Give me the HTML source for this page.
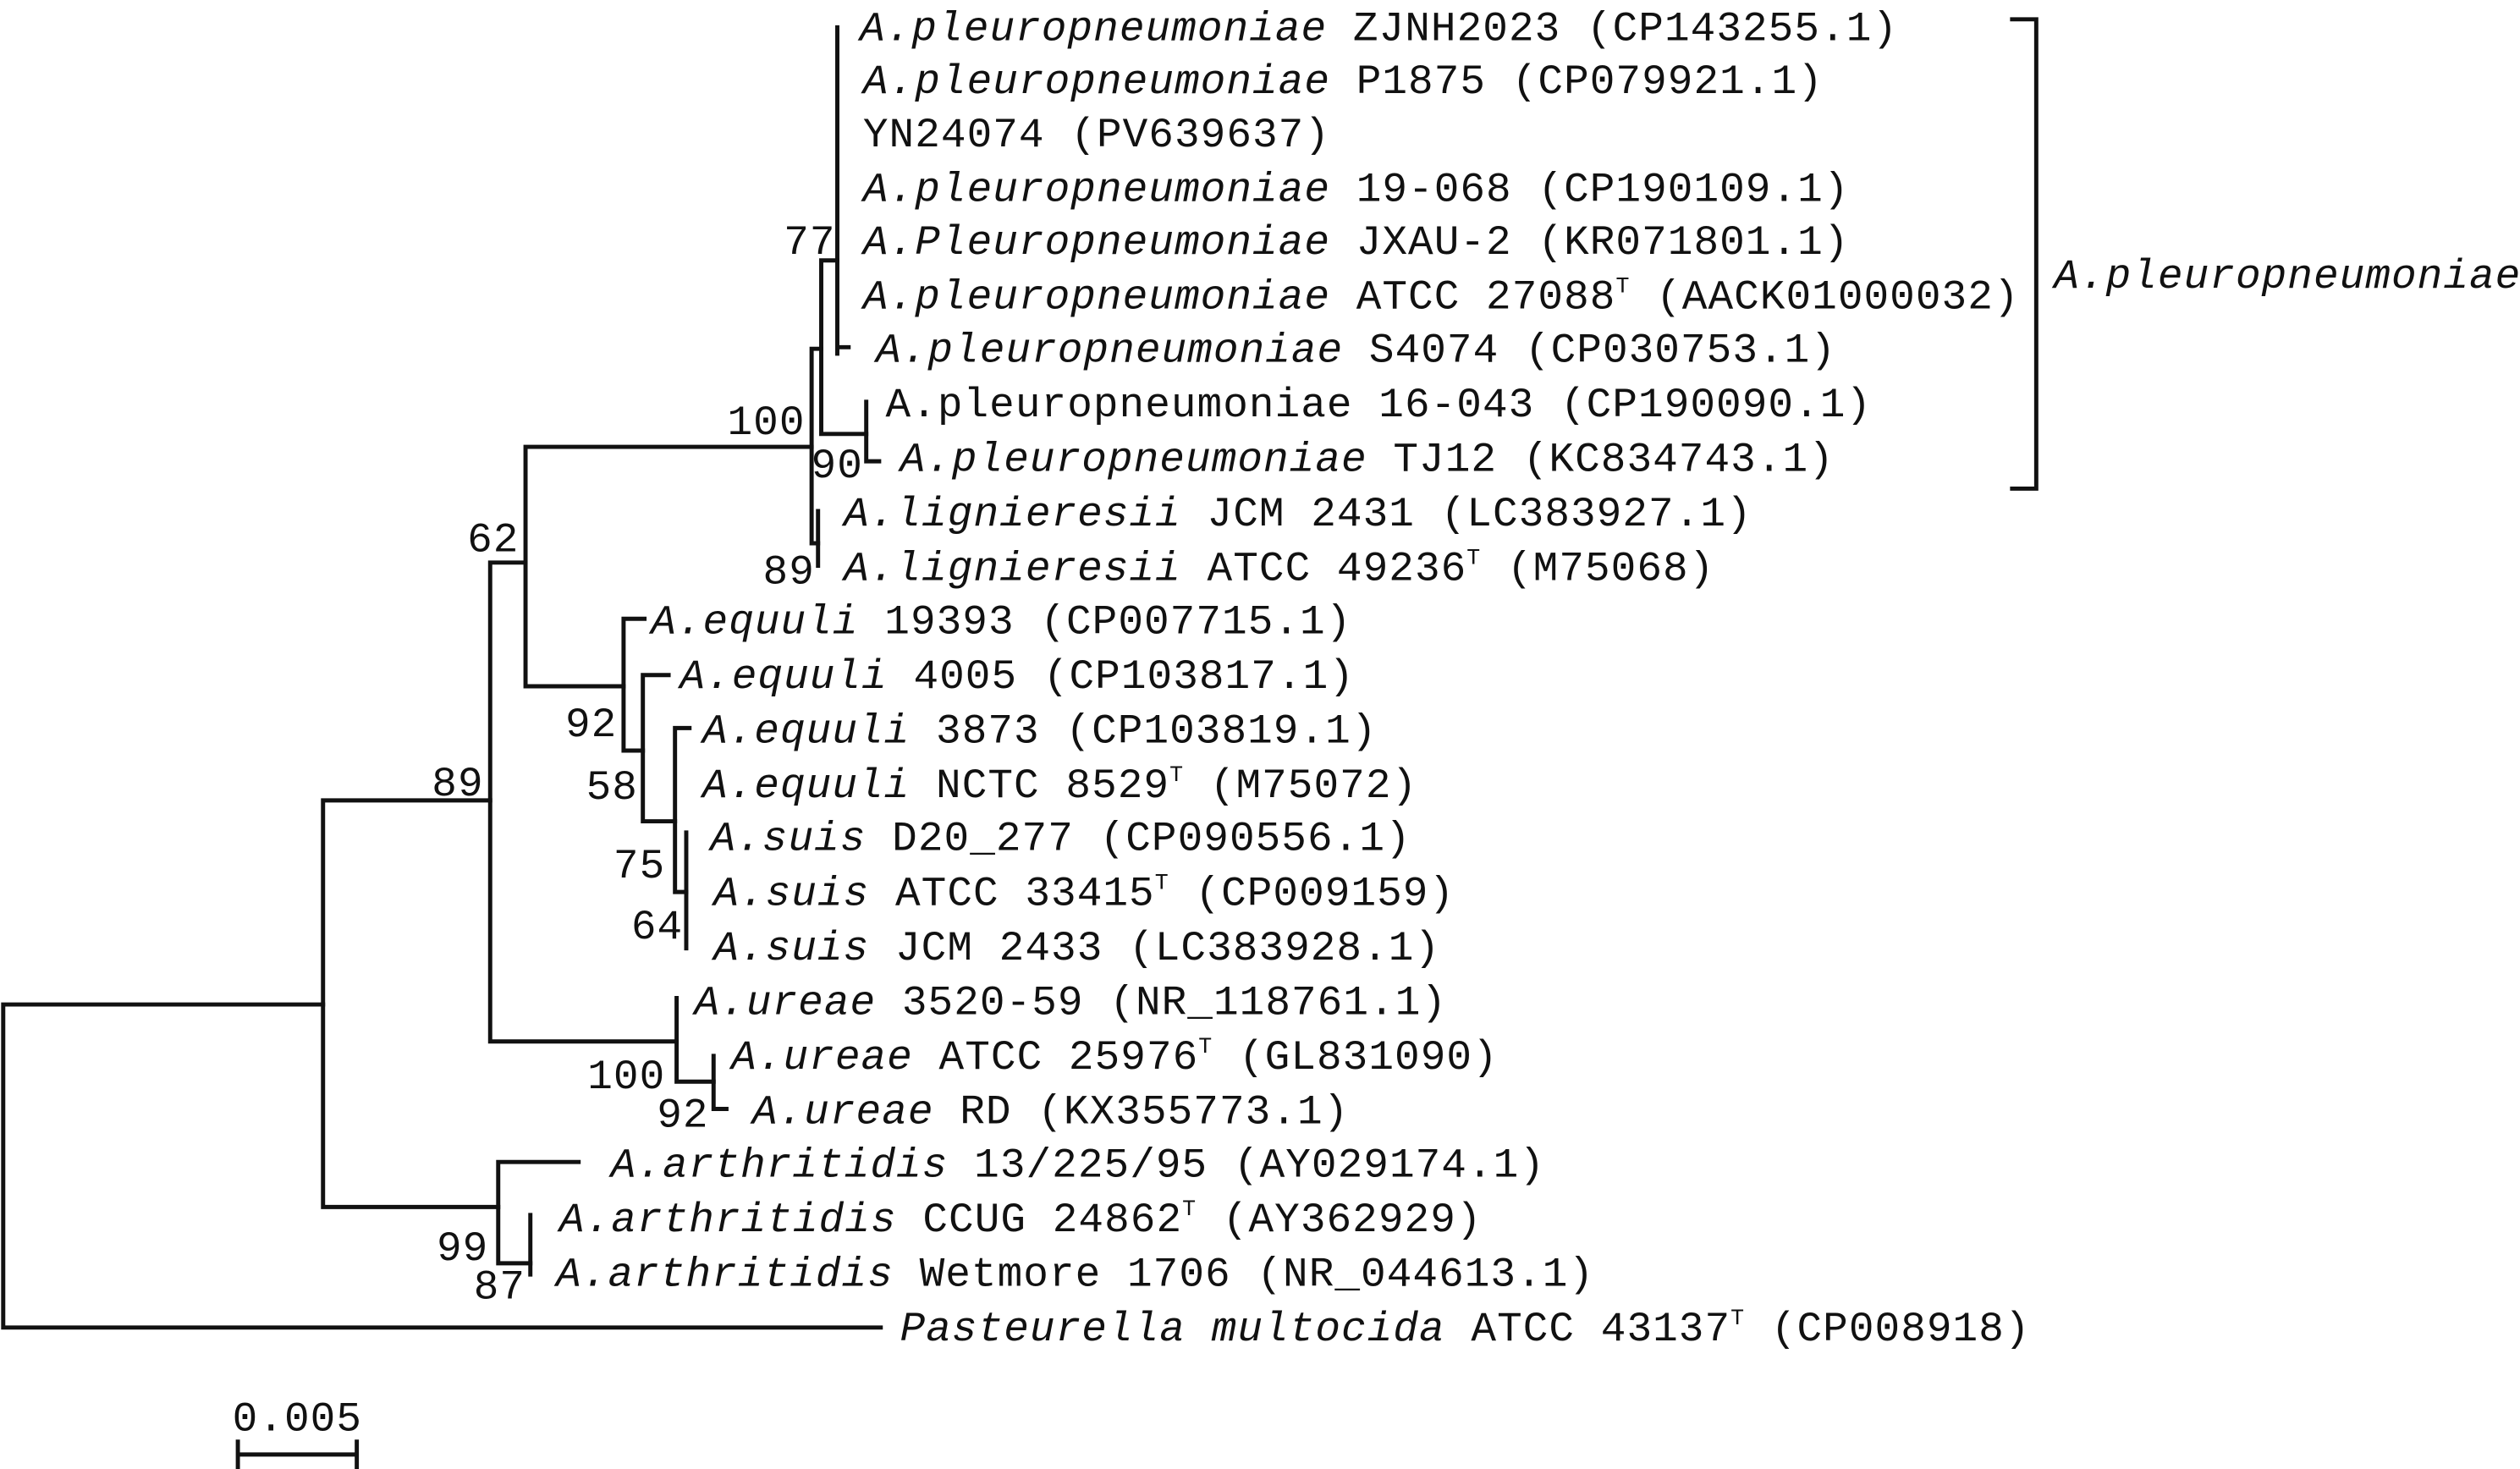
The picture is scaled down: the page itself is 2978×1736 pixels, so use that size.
<!DOCTYPE html>
<html><head><meta charset="utf-8"><style>
html,body{margin:0;padding:0;background:#fff;}
svg{display:block;}
text{font-family:"Liberation Mono",monospace;font-size:26px;fill:#111;letter-spacing:0.55px;}
.i{font-style:italic;}
.s{font-size:14px;}
</style></head><body>
<svg width="2978" height="1736" viewBox="0 0 1568 914" xmlns="http://www.w3.org/2000/svg">
<g stroke="#111" stroke-width="2.6" fill="none" stroke-linecap="square">
<path d="M2 625V826M2 625H201M2 826H548"/>
<path d="M201 498V751M201 498H305M201 751H310"/>
<path d="M305 350V648M305 350H327M305 648H421"/>
<path d="M327 278V427M327 278H505M327 427H388"/>
<path d="M505 217V338M505 217H511M505 338H509"/>
<path d="M509 318V352"/>
<path d="M511 162V270M511 162H521M511 270H539"/>
<path d="M521 17V220M521 216H528"/>
<path d="M539 250V287M539 287H547"/>
<path d="M388 385V467M388 385H401M388 467H400"/>
<path d="M400 420V511M400 420H416M400 511H420"/>
<path d="M420 453V555M420 453H429M420 555H427"/>
<path d="M427 518V590"/>
<path d="M421 621V673M421 673H444"/>
<path d="M444 657V690M444 690H452"/>
<path d="M310 723V786M310 723H360M310 786H330"/>
<path d="M330 756V793"/>
<path d="M1252 12H1267V304H1252"/>
<path d="M148 905H222M148 897V914M222 897V914"/>
</g>
<g>
<text x="535" y="25"><tspan class="i">A.pleuropneumoniae</tspan> ZJNH2023 (CP143255.1)</text>
<text x="537" y="58"><tspan class="i">A.pleuropneumoniae</tspan> P1875 (CP079921.1)</text>
<text x="537" y="91">YN24074 (PV639637)</text>
<text x="537" y="125"><tspan class="i">A.pleuropneumoniae</tspan> 19-068 (CP190109.1)</text>
<text x="537" y="158"><tspan class="i">A.Pleuropneumoniae</tspan> JXAU-2 (KR071801.1)</text>
<text x="537" y="192"><tspan class="i">A.pleuropneumoniae</tspan> ATCC 27088<tspan class="s" dy="-10">T</tspan><tspan dy="10"> (AACK01000032)</tspan></text>
<text x="545" y="225"><tspan class="i">A.pleuropneumoniae</tspan> S4074 (CP030753.1)</text>
<text x="551" y="259">A.pleuropneumoniae 16-043 (CP190090.1)</text>
<text x="560" y="293"><tspan class="i">A.pleuropneumoniae</tspan> TJ12 (KC834743.1)</text>
<text x="525" y="327"><tspan class="i">A.lignieresii</tspan> JCM 2431 (LC383927.1)</text>
<text x="525" y="361"><tspan class="i">A.lignieresii</tspan> ATCC 49236<tspan class="s" dy="-10">T</tspan><tspan dy="10"> (M75068)</tspan></text>
<text x="405" y="394"><tspan class="i">A.equuli</tspan> 19393 (CP007715.1)</text>
<text x="423" y="428"><tspan class="i">A.equuli</tspan> 4005 (CP103817.1)</text>
<text x="437" y="462"><tspan class="i">A.equuli</tspan> 3873 (CP103819.1)</text>
<text x="437" y="496"><tspan class="i">A.equuli</tspan> NCTC 8529<tspan class="s" dy="-10">T</tspan><tspan dy="10"> (M75072)</tspan></text>
<text x="442" y="529"><tspan class="i">A.suis</tspan> D20_277 (CP090556.1)</text>
<text x="444" y="563"><tspan class="i">A.suis</tspan> ATCC 33415<tspan class="s" dy="-10">T</tspan><tspan dy="10"> (CP009159)</tspan></text>
<text x="444" y="597"><tspan class="i">A.suis</tspan> JCM 2433 (LC383928.1)</text>
<text x="432" y="631"><tspan class="i">A.ureae</tspan> 3520-59 (NR_118761.1)</text>
<text x="455" y="665"><tspan class="i">A.ureae</tspan> ATCC 25976<tspan class="s" dy="-10">T</tspan><tspan dy="10"> (GL831090)</tspan></text>
<text x="468" y="699"><tspan class="i">A.ureae</tspan> RD (KX355773.1)</text>
<text x="380" y="732"><tspan class="i">A.arthritidis</tspan> 13/225/95 (AY029174.1)</text>
<text x="348" y="766"><tspan class="i">A.arthritidis</tspan> CCUG 24862<tspan class="s" dy="-10">T</tspan><tspan dy="10"> (AY362929)</tspan></text>
<text x="346" y="800"><tspan class="i">A.arthritidis</tspan> Wetmore 1706 (NR_044613.1)</text>
<text x="560" y="834"><tspan class="i">Pasteurella multocida</tspan> ATCC 43137<tspan class="s" dy="-10">T</tspan><tspan dy="10"> (CP008918)</tspan></text>
<text x="1278" y="179" class="i">A.pleuropneumoniae</text>
</g>
<g text-anchor="end">
<text x="520" y="158">77</text>
<text x="501" y="270">100</text>
<text x="537" y="297">90</text>
<text x="507" y="363">89</text>
<text x="323" y="343">62</text>
<text x="384" y="458">92</text>
<text x="397" y="497">58</text>
<text x="301" y="495">89</text>
<text x="414" y="546">75</text>
<text x="425" y="584">64</text>
<text x="414" y="677">100</text>
<text x="441" y="701">92</text>
<text x="304" y="784">99</text>
<text x="327" y="808">87</text>
</g>
<text x="185" y="890" text-anchor="middle">0.005</text>
</svg>
</body></html>
